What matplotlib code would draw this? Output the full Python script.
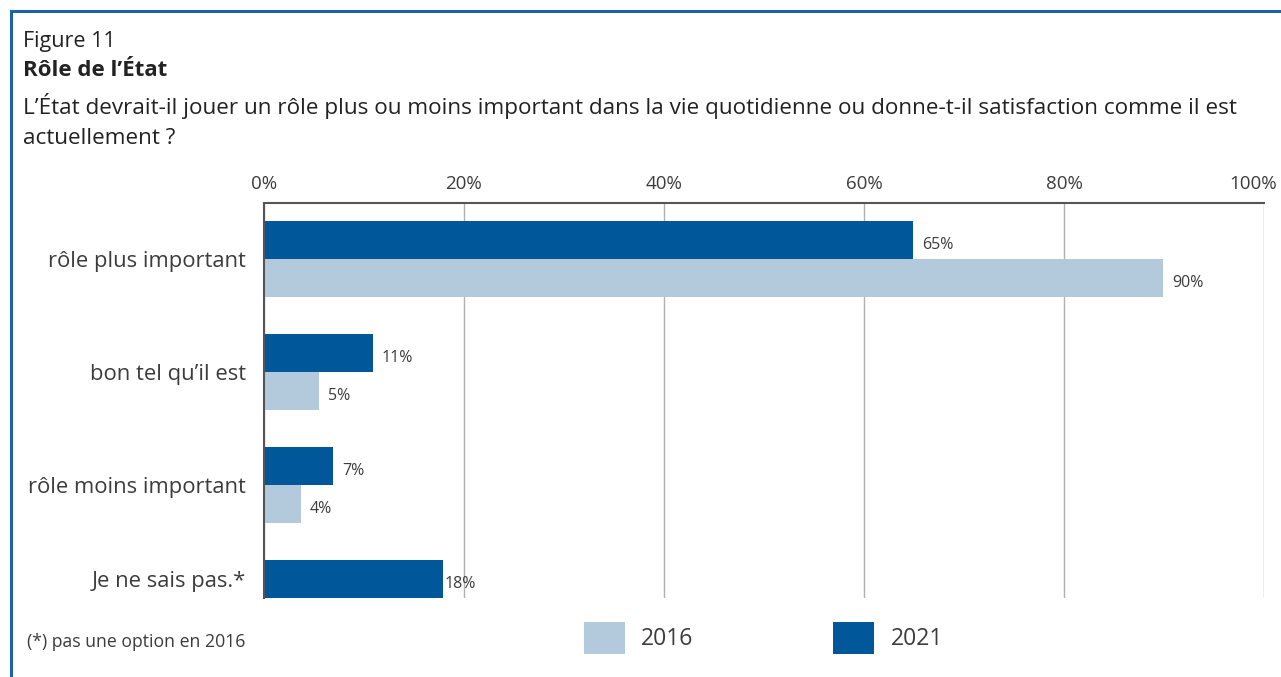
import numpy as np
import matplotlib.pyplot as plt
from matplotlib.lines import Line2D
from matplotlib.patches import Patch

plt.rcParams['font.family'] = ['Open Sans', 'DejaVu Sans']

categories = ['rôle plus important', 'bon tel qu\u2019il est', 'rôle moins important', 'Je ne sais pas.*']
v2021 = [64.9, 10.9, 6.9, 17.9]
v2016 = [89.9, 5.5, 3.7, None]
lab2021 = ['65%', '11%', '7%', '18%']
lab2016 = ['90%', '5%', '4%', None]
ticks = [0, 20, 40, 60, 80, 100]

dark = '#00589a'
light = '#b3cadd'
txt = '#3c3c3c'

W, H = 1281, 677
fig = plt.figure(figsize=(W / 100, H / 100), dpi=100)
ax = fig.add_axes([264 / W, 1 - 598 / H, (1264 - 264) / W, (598 - 203) / H])

h = 0.336
label_pos = []
for i, cat in enumerate(categories):
    if v2016[i] is None:
        # only one bar: sits just above the row line
        ax.barh(i - h / 2, v2021[i], height=h, color=dark, zorder=3)
        ax.text(v2021[i] + 0.2, i - h / 2 + 0.04, lab2021[i], va='center', ha='left',
                fontsize=11.5, color=txt, zorder=4)
        label_pos.append(i - h / 2)
    else:
        ax.barh(i - h / 2, v2021[i], height=h, color=dark, zorder=3)
        ax.barh(i + h / 2, v2016[i], height=h, color=light, zorder=3)
        ax.text(v2021[i] + 0.9, i - h / 2 + 0.04, lab2021[i], va='center', ha='left',
                fontsize=11.5, color=txt, zorder=4)
        ax.text(v2016[i] + 0.9, i + h / 2 + 0.04, lab2016[i], va='center', ha='left',
                fontsize=11.5, color=txt, zorder=4)
        label_pos.append(i)

ax.set_xlim(0, 100)
ax.set_ylim(3.0, -0.496)
ax.set_xticks(ticks)
# last label (100%) is drawn separately, right-aligned so it stays inside the figure
ax.set_xticklabels([f'{t}%' for t in ticks[:-1]] + [''], fontsize=13.5, color=txt)
ax.annotate(f'{ticks[-1]}%', xy=(101.3, 1.0), xycoords=ax.get_xaxis_transform(),
            xytext=(0, 7), textcoords='offset points', ha='right', va='bottom',
            fontsize=13.5, color=txt)
ax.xaxis.tick_top()
ax.tick_params(axis='x', length=0, pad=7)
ax.set_yticks(label_pos)
ax.set_yticklabels(categories, fontsize=15.8, color=txt)
ax.tick_params(axis='y', length=0, pad=13)
ax.grid(axis='x', color='#b0b0b0', linewidth=1, zorder=0)
for s in ['right', 'bottom']:
    ax.spines[s].set_visible(False)
for s in ['left', 'top']:
    ax.spines[s].set_color('#555555')
    ax.spines[s].set_linewidth(1.5)
    ax.spines[s].set_zorder(5)

# header text
fig.text(23 / W, 1 - 41 / H, 'Figure 11', fontsize=15.5, color='#222222', va='center')
fig.text(23 / W, 1 - 70 / H, 'Rôle de l\u2019État', fontsize=16, fontweight='bold',
         color='#222222', va='center')
fig.text(23 / W, 1 - 106 / H,
         'L\u2019État devrait-il jouer un rôle plus ou moins important dans la vie quotidienne ou donne-t-il satisfaction comme il est',
         fontsize=16.2, color='#222222', va='center')
fig.text(23 / W, 1 - 138 / H, 'actuellement ?', fontsize=16.2, color='#222222', va='center')
fig.text(27 / W, 1 - 642 / H, '(*) pas une option en 2016', fontsize=12.7, color=txt, va='center')

handles = [Patch(facecolor=light, edgecolor='none'), Patch(facecolor=dark, edgecolor='none')]
fig.legend(handles, ['2016', '2021'], loc='center left', bbox_to_anchor=(563 / W, 1 - 638 / H),
           ncol=2, frameon=False, fontsize=16.5, handlelength=1.79, handleheight=1.75,
           handletextpad=0.7, columnspacing=6.12, labelcolor=txt)

# blue frame (top and left edges)
fig.add_artist(Line2D([11 / W, 1], [1 - 11 / H, 1 - 11 / H], color='#1e63a6', linewidth=2.2))
fig.add_artist(Line2D([11 / W, 11 / W], [1 - 11 / H, 0], color='#1e63a6', linewidth=2.2))

fig.savefig('out.png', dpi=100)
